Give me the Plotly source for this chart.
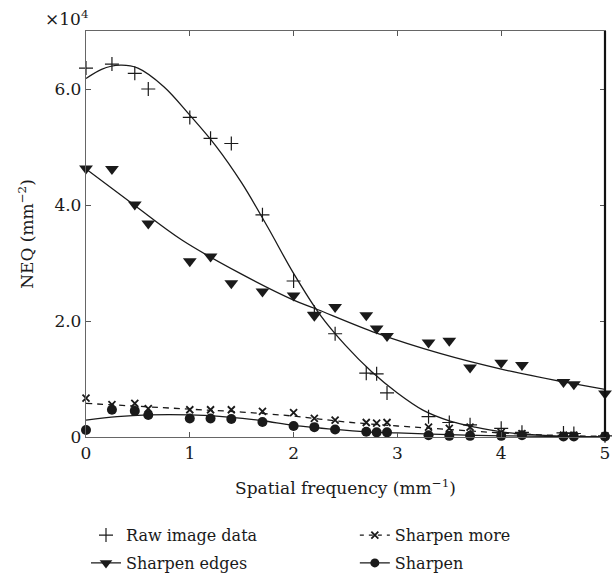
import plotly.graph_objects as go

# Spatial frequency (mm^-1) of the measured points
freq = [0, 0.25, 0.47, 0.6, 1.0, 1.2, 1.4, 1.7, 2.0, 2.2, 2.4, 2.7, 2.8, 2.9,
        3.3, 3.5, 3.7, 4.0, 4.2, 4.6, 4.7, 5.0]

# NEQ values (x 10^4 mm^-2)
raw_image = [6.36, 6.43, 6.27, 6.00, 5.51, 5.15, 5.06, 3.83, 2.69, 2.15, 1.78, 1.10,
             1.09, 0.76, 0.35, 0.25, 0.21, 0.15, 0.08, 0.07, 0.06, 0.02]
sharpen_edges = [4.63, 4.62, 4.01, 3.68, 3.03, 3.11, 2.65, 2.51, 2.44, 2.09, 2.24, 2.10,
                 1.87, 1.74, 1.63, 1.66, 1.20, 1.28, 1.24, 0.95, 0.91, 0.75]
sharpen_more = [0.67, 0.56, 0.58, 0.49, 0.47, 0.47, 0.47, 0.44, 0.42, 0.32, 0.29, 0.25,
                0.24, 0.25, 0.17, 0.15, 0.17, 0.08, 0.06, 0.03, 0.03, 0.02]
sharpen = [0.12, 0.47, 0.45, 0.38, 0.32, 0.32, 0.31, 0.26, 0.19, 0.17, 0.13, 0.09,
           0.08, 0.08, 0.03, 0.02, 0.02, 0.02, 0.03, 0.01, 0.01, 0.01]

# Fitted curves
fit_raw_x = [0, 0.15, 0.33, 0.5, 0.75, 1.0, 1.25, 1.5, 1.75, 2.0, 2.25, 2.5, 2.75, 3.0, 3.25,
             3.5, 3.75, 4.0, 4.5, 5.0]
fit_raw_y = [6.18, 6.34, 6.41, 6.36, 6.04, 5.55, 5.02, 4.38, 3.62, 2.82, 2.12, 1.58, 1.13, 0.76, 0.46,
             0.28, 0.17, 0.09, 0.02, 0.0]
fit_edges_x = [0, 0.47, 0.92, 1.485, 2.0, 2.2, 2.8, 3.41, 4.0, 4.6, 5.0]
fit_edges_y = [4.62, 3.99, 3.40, 2.82, 2.36, 2.22, 1.79, 1.44, 1.17, 0.95, 0.82]
fit_more_x = [0, 0.5, 1.0, 1.5, 2.0, 2.5, 3.0, 3.5, 4.0, 4.5, 5.0]
fit_more_y = [0.58, 0.53, 0.48, 0.43, 0.36, 0.26, 0.19, 0.13, 0.07, 0.03, 0.01]
fit_sharpen_x = [0, 0.3, 0.6, 1.0, 1.4, 1.7, 2.0, 2.4, 2.7, 3.0, 3.5, 4.0, 5.0]
fit_sharpen_y = [0.29, 0.35, 0.38, 0.38, 0.34, 0.28, 0.20, 0.13, 0.09, 0.07, 0.04, 0.02, 0.0]

x_ticks = [0, 1, 2, 3, 4, 5]
y_ticks = [0, 2, 4, 6]
y_tick_labels = ["0", "2.0", "4.0", "6.0"]

FONT = "DejaVu Serif"
INK = "#1a1a1a"

fig = go.Figure()

# fitted curves
fig.add_trace(go.Scatter(x=fit_raw_x, y=fit_raw_y, mode="lines", line=dict(color=INK, width=1.3, shape="spline"),
                         showlegend=False, hoverinfo="skip"))
fig.add_trace(go.Scatter(x=fit_edges_x, y=fit_edges_y, mode="lines", line=dict(color=INK, width=1.3, shape="spline"),
                         showlegend=False, hoverinfo="skip"))
fig.add_trace(go.Scatter(x=fit_more_x, y=fit_more_y, mode="lines",
                         line=dict(color=INK, width=1.3, shape="spline", dash="6px,5px"),
                         showlegend=False, hoverinfo="skip"))
fig.add_trace(go.Scatter(x=fit_sharpen_x, y=fit_sharpen_y, mode="lines", line=dict(color=INK, width=1.3, shape="spline"),
                         showlegend=False, hoverinfo="skip"))

# data points
fig.add_trace(go.Scatter(x=freq, y=raw_image, mode="markers", cliponaxis=False, showlegend=False,
                         marker=dict(symbol="cross-thin", size=10, line=dict(color=INK, width=1.2))))
fig.add_trace(go.Scatter(x=freq, y=sharpen_more, mode="markers", cliponaxis=False, showlegend=False,
                         marker=dict(symbol="x-thin", size=7, line=dict(color=INK, width=1.8))))
fig.add_trace(go.Scatter(x=freq, y=sharpen_edges, mode="markers", cliponaxis=False, showlegend=False,
                         marker=dict(symbol="triangle-down", size=12, color=INK)))
fig.add_trace(go.Scatter(x=freq, y=sharpen, mode="markers", cliponaxis=False, showlegend=False,
                         marker=dict(symbol="circle", size=10, color=INK)))

# legend entries
fig.add_trace(go.Scatter(x=[None], y=[None], mode="markers", name="Raw image data", legend="legend",
                         legendgroup="a",
                         marker=dict(symbol="cross-thin", size=10, line=dict(color=INK, width=1.2))))
fig.add_trace(go.Scatter(x=[None], y=[None], mode="lines+markers", name="Sharpen edges", legend="legend",
                         legendgroup="b",
                         line=dict(color=INK, width=1.3), marker=dict(symbol="triangle-down", size=11, color=INK)))
fig.add_trace(go.Scatter(x=[None], y=[None], mode="lines+markers", name="Sharpen more", legend="legend2",
                         legendgroup="c",
                         line=dict(color=INK, width=1.3, dash="4px,5px"),
                         marker=dict(symbol="x-thin", size=7, line=dict(color=INK, width=1.8))))
fig.add_trace(go.Scatter(x=[None], y=[None], mode="lines+markers", name="Sharpen", legend="legend2",
                         legendgroup="d",
                         line=dict(color=INK, width=1.3), marker=dict(symbol="circle", size=9, color=INK)))

axis_common = dict(showgrid=False, zeroline=False, ticks="inside", ticklen=5, tickcolor="#555",
                   showline=True, linecolor="#666", linewidth=1.3, mirror="ticks", automargin=False,
                   tickfont=dict(family=FONT, size=17, color=INK))

fig.update_xaxes(range=[0, 5], tickvals=x_ticks, ticktext=[str(v) for v in x_ticks],
                 title=dict(text="Spatial frequency (mm<sup>−1</sup>)", font=dict(family=FONT, size=17, color=INK),
                            standoff=20),
                 **axis_common)
fig.update_yaxes(range=[0, 7], tickvals=y_ticks, ticktext=y_tick_labels,
                 title=dict(text="NEQ (mm<sup>−2</sup>)", font=dict(family=FONT, size=17, color=INK), standoff=16),
                 **axis_common)

fig.add_shape(type="line", xref="paper", yref="paper", x0=1, x1=1, y0=0, y1=1,
              line=dict(color="#111", width=2.2))

fig.add_annotation(text="×10<sup>4</sup>", xref="paper", yref="paper", x=-0.082, y=1.0,
                   xanchor="left", yanchor="bottom", showarrow=False,
                   font=dict(family=FONT, size=17, color=INK))

legend_common = dict(orientation="v", bgcolor="rgba(0,0,0,0)", font=dict(family=FONT, size=16, color=INK),
                     yanchor="top", xanchor="left", tracegroupgap=4, itemwidth=30)
fig.update_layout(
    width=613, height=573,
    margin=dict(l=86, r=8, t=31, b=136, autoexpand=False),
    paper_bgcolor="white", plot_bgcolor="white",
    legend=dict(x=0.0, y=-0.2, **legend_common),
    legend2=dict(x=0.518, y=-0.2, **legend_common),
)

fig.write_html("out.html", config={"displayModeBar": False},
               post_script="document.body.style.margin='0';")
